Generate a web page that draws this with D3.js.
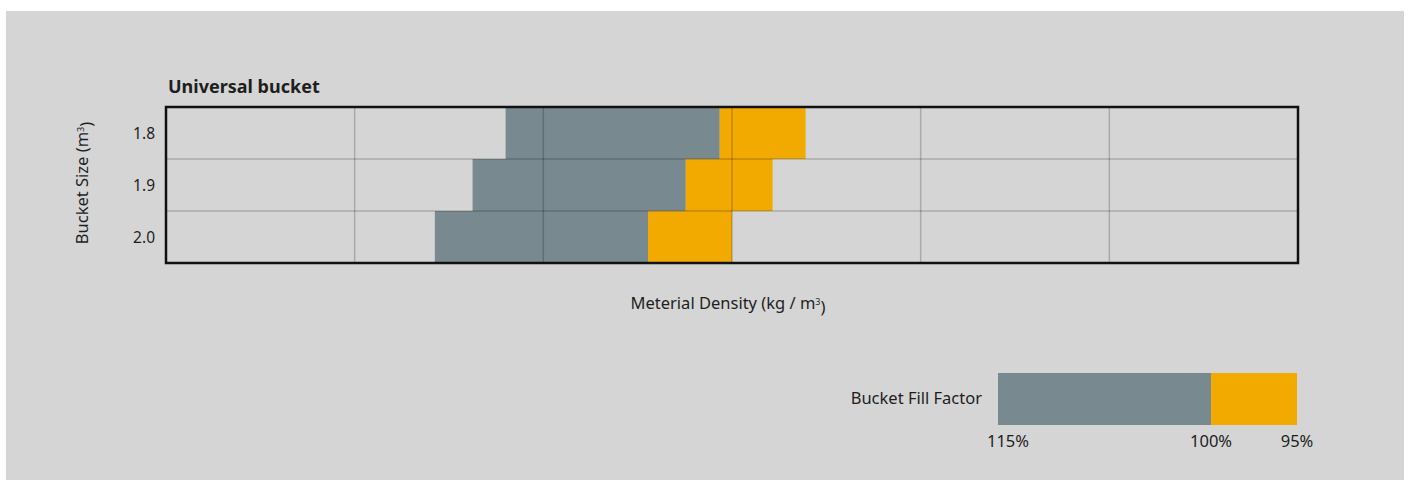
<!DOCTYPE html>
<html>
<head>
<meta charset="utf-8">
<script src="https://cdn.jsdelivr.net/npm/d3@7"></script>
<style>
    body { margin: 0; background: #fff; }
    text { font-family: "Noto Sans", sans-serif; fill: #1e1e1e; }
</style>
</head>
<body>
<div id="chart"></div>
<script>
'use strict';

// bucket sizes (m3), one row each
let bucketSizes = ['1.8', '1.9', '2.0'];

// material density (kg/m3) reached at each fill factor
let density115 = [1360, 1325, 1285];
let density100 = [1587, 1551, 1511];
let density95 = [1678, 1643, 1600];

let densityTicks = [1000, 1200, 1400, 1600, 1800, 2000, 2200];

// legend
let fillFactors = [115, 100, 95];
let fillFactorLabels = ['115%', '100%', '95%'];

let width = 1408,
    height = 480;

let gray = '#788a90',
    orange = '#f2aa00';

let svg = d3.select('#chart')
    .append('svg')
    .attr('width', width)
    .attr('height', height);

svg.append('rect')
    .attr('x', 6)
    .attr('y', 11)
    .attr('width', 1398)
    .attr('height', 469)
    .style('fill', '#d5d5d5');

let x = d3.scaleLinear()
    .domain([densityTicks[0], densityTicks[densityTicks.length - 1]])
    .range([166, 1298]);

let y = d3.scaleBand()
    .domain(bucketSizes)
    .range([107, 263])
    .padding(0);

let rows = bucketSizes.map(function(d, i) {
    return {size: d, d115: density115[i], d100: density100[i], d95: density95[i]};
});

// bars: 115% -> 100% gray, 100% -> 95% orange
let bars = svg.append('g');
bars.selectAll('rect.low')
    .data(rows)
    .enter().append('rect')
    .attr('x', function(d) { return x(d.d115); })
    .attr('y', function(d) { return y(d.size); })
    .attr('width', function(d) { return x(d.d100) - x(d.d115); })
    .attr('height', y.bandwidth())
    .style('fill', gray);
bars.selectAll('rect.high')
    .data(rows)
    .enter().append('rect')
    .attr('x', function(d) { return x(d.d100); })
    .attr('y', function(d) { return y(d.size); })
    .attr('width', function(d) { return x(d.d95) - x(d.d100); })
    .attr('height', y.bandwidth())
    .style('fill', orange);

// grid lines, drawn over the bars
let grid = svg.append('g')
    .attr('stroke', '#000')
    .attr('stroke-opacity', 0.2)
    .attr('stroke-width', 1.5);
grid.selectAll('line.v')
    .data(densityTicks.slice(1, -1))
    .enter().append('line')
    .attr('x1', function(d) { return x(d); })
    .attr('x2', function(d) { return x(d); })
    .attr('y1', y.range()[0])
    .attr('y2', y.range()[1]);
grid.selectAll('line.h')
    .data(bucketSizes.slice(1))
    .enter().append('line')
    .attr('x1', x.range()[0])
    .attr('x2', x.range()[1])
    .attr('y1', function(d) { return y(d); })
    .attr('y2', function(d) { return y(d); });

// frame
svg.append('rect')
    .attr('x', x.range()[0])
    .attr('y', y.range()[0])
    .attr('width', x.range()[1] - x.range()[0])
    .attr('height', y.range()[1] - y.range()[0])
    .style('fill', 'none')
    .style('stroke', '#111')
    .style('stroke-width', 2.5);

// y axis labels
let yAxis = svg.append('g')
    .attr('transform', 'translate(' + x.range()[0] + ',0)')
    .call(d3.axisLeft(y).tickSize(0).tickPadding(11));
yAxis.select('.domain').remove();
yAxis.selectAll('text')
    .style('font-size', '15.5px')
    .attr('dy', '0.4em')
    .style('font-family', '"Noto Sans", sans-serif')
    .style('fill', '#1e1e1e');

svg.append('text')
    .attr('x', 168)
    .attr('y', 93)
    .style('font-size', '18px')
    .style('font-weight', 'bold')
    .text('Universal bucket');

let yTitle = svg.append('text')
    .attr('transform', 'translate(88,183) rotate(-90)')
    .attr('text-anchor', 'middle')
    .style('font-size', '16.5px');
yTitle.append('tspan').text('Bucket Size (m');
yTitle.append('tspan').attr('dy', '-0.5em').style('font-size', '9px').text('3');
yTitle.append('tspan').attr('dy', '0.5em').text(')');

let xTitle = svg.append('text')
    .attr('x', 728)
    .attr('y', 309)
    .attr('text-anchor', 'middle')
    .style('font-size', '16.5px');
xTitle.append('tspan').text('Meterial Density (kg / m');
xTitle.append('tspan').attr('dy', '-0.5em').style('font-size', '9px').text('3');
xTitle.append('tspan').attr('dy', '0.5em').text(')');

// legend: position by 1 / fill factor
let legendX = d3.scaleLinear()
    .domain([100 / fillFactors[0], 100 / fillFactors[2]])
    .range([998, 1297]);
let legend = svg.append('g');
legend.append('rect')
    .attr('x', legendX(100 / fillFactors[0]))
    .attr('y', 373)
    .attr('width', legendX(100 / fillFactors[1]) - legendX(100 / fillFactors[0]))
    .attr('height', 52)
    .style('fill', gray);
legend.append('rect')
    .attr('x', legendX(100 / fillFactors[1]))
    .attr('y', 373)
    .attr('width', legendX(100 / fillFactors[2]) - legendX(100 / fillFactors[1]))
    .attr('height', 52)
    .style('fill', orange);
legend.append('text')
    .attr('x', 982)
    .attr('y', 404)
    .attr('text-anchor', 'end')
    .style('font-size', '16.5px')
    .text('Bucket Fill Factor');
legend.selectAll('text.pct')
    .data(fillFactors)
    .enter().append('text')
    .attr('class', 'pct')
    .attr('x', function(d) { return legendX(100 / d); })
    .attr('dx', function(d, i) { return i === 0 ? 10 : 0; })
    .attr('y', 447)
    .attr('text-anchor', 'middle')
    .style('font-size', '16.5px')
    .text(function(d, i) { return fillFactorLabels[i]; });
</script>
</body>
</html>
